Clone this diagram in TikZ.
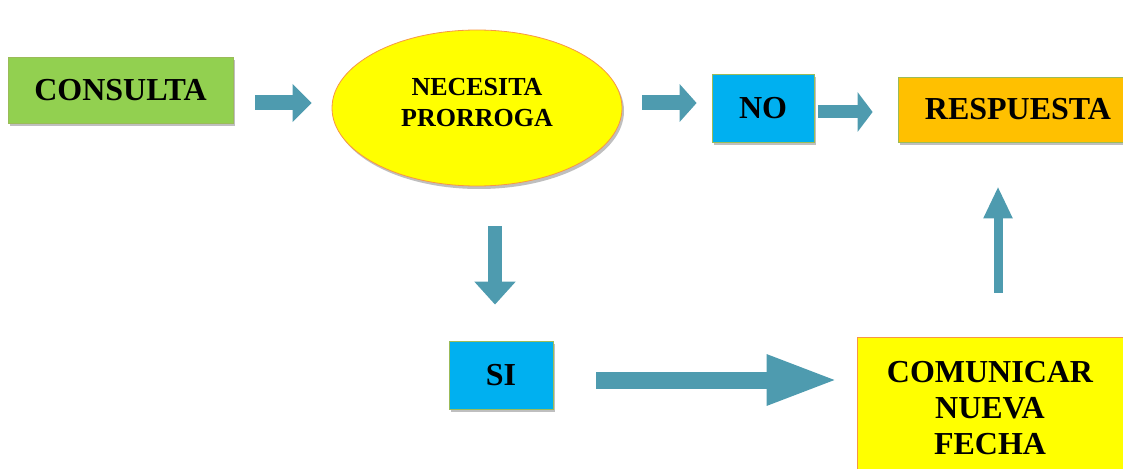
\documentclass[tikz,border=0pt]{standalone}
\usepackage{fontspec}
\setmainfont{Liberation Serif}
\usetikzlibrary{arrows.meta}
\usetikzlibrary{shapes.geometric}
\usetikzlibrary{shadows}
\definecolor{verdecaja}{HTML}{92D050}
\definecolor{bordeverde}{HTML}{9BBB59}
\definecolor{amarillo}{HTML}{FFFF00}
\definecolor{bordenaranja}{HTML}{F79646}
\definecolor{cian}{HTML}{00B0F0}
\definecolor{naranja}{HTML}{FFC000}
\definecolor{colorflecha}{HTML}{4E9BAF}
\tikzset{
    caja/.style={draw=bordeverde, line width=0.8pt, inner sep=0pt, align=center,
        font=\fontsize{32}{36}\selectfont\bfseries,
        drop shadow={shadow xshift=2pt, shadow yshift=-3pt, fill=black, opacity=0.25}},
    flecha/.style n args={3}{draw=colorflecha, line width=#1, -{Triangle[length=#2,width=#3]}}
}
\begin{document}
\begin{tikzpicture}[x=1pt,y=1pt]
	\useasboundingbox (0,0) rectangle (1123,-468);
	\clip (0,0) rectangle (1123,-468);

	\node[caja,fill=verdecaja,minimum width=225pt,minimum height=66pt] (consulta) at (120.5,-90) {CONSULTA};
	\node[caja,ellipse,fill=amarillo,draw=bordenaranja,minimum width=290pt,minimum height=156pt,
		font=\fontsize{26}{31}\selectfont\bfseries,text depth=12pt] (necesita) at (477,-108) {NECESITA\\PRORROGA};
	\node[caja,fill=cian,minimum width=102pt,minimum height=68pt] (no) at (763,-108) {NO};
	\node[caja,fill=naranja,minimum width=240pt,minimum height=65pt] (respuesta) at (1018,-109.5) {RESPUESTA};
	\node[caja,fill=cian,minimum width=104pt,minimum height=68pt] (si) at (501,-375) {SI};
	\node[caja,fill=amarillo,draw=bordenaranja,minimum width=266pt,minimum height=143pt] (comunicar) at (990,-408.5) {COMUNICAR\\NUEVA\\FECHA};

	\draw[flecha={15pt}{19pt}{37pt}] ([xshift=22pt,yshift=-13pt]consulta.east) -- ([xshift=-20pt,yshift=5pt]necesita.west);
	\draw[flecha={15pt}{17pt}{37pt}] ([xshift=20pt,yshift=5pt]necesita.east) -- ([xshift=-15pt,yshift=5pt]no.west);
	\draw[flecha={13pt}{15pt}{39pt}] ([xshift=4pt,yshift=-4pt]no.east) -- ([xshift=-25pt,yshift=-2.5pt]respuesta.west);
	\draw[flecha={14pt}{23pt}{40pt}] ([xshift=18pt,yshift=-40pt]necesita.south) -- ([xshift=-6pt,yshift=36pt]si.north);
	\draw[flecha={17pt}{72pt}{46pt}] ([xshift=43pt,yshift=-5pt]si.east) -- ([xshift=-18pt,yshift=28.5pt]comunicar.west);
	\draw[flecha={9pt}{32pt}{27pt}] ([xshift=8pt,yshift=44pt]comunicar.north) -- ([xshift=-20pt,yshift=-44pt]respuesta.south);
\end{tikzpicture}
\end{document}
